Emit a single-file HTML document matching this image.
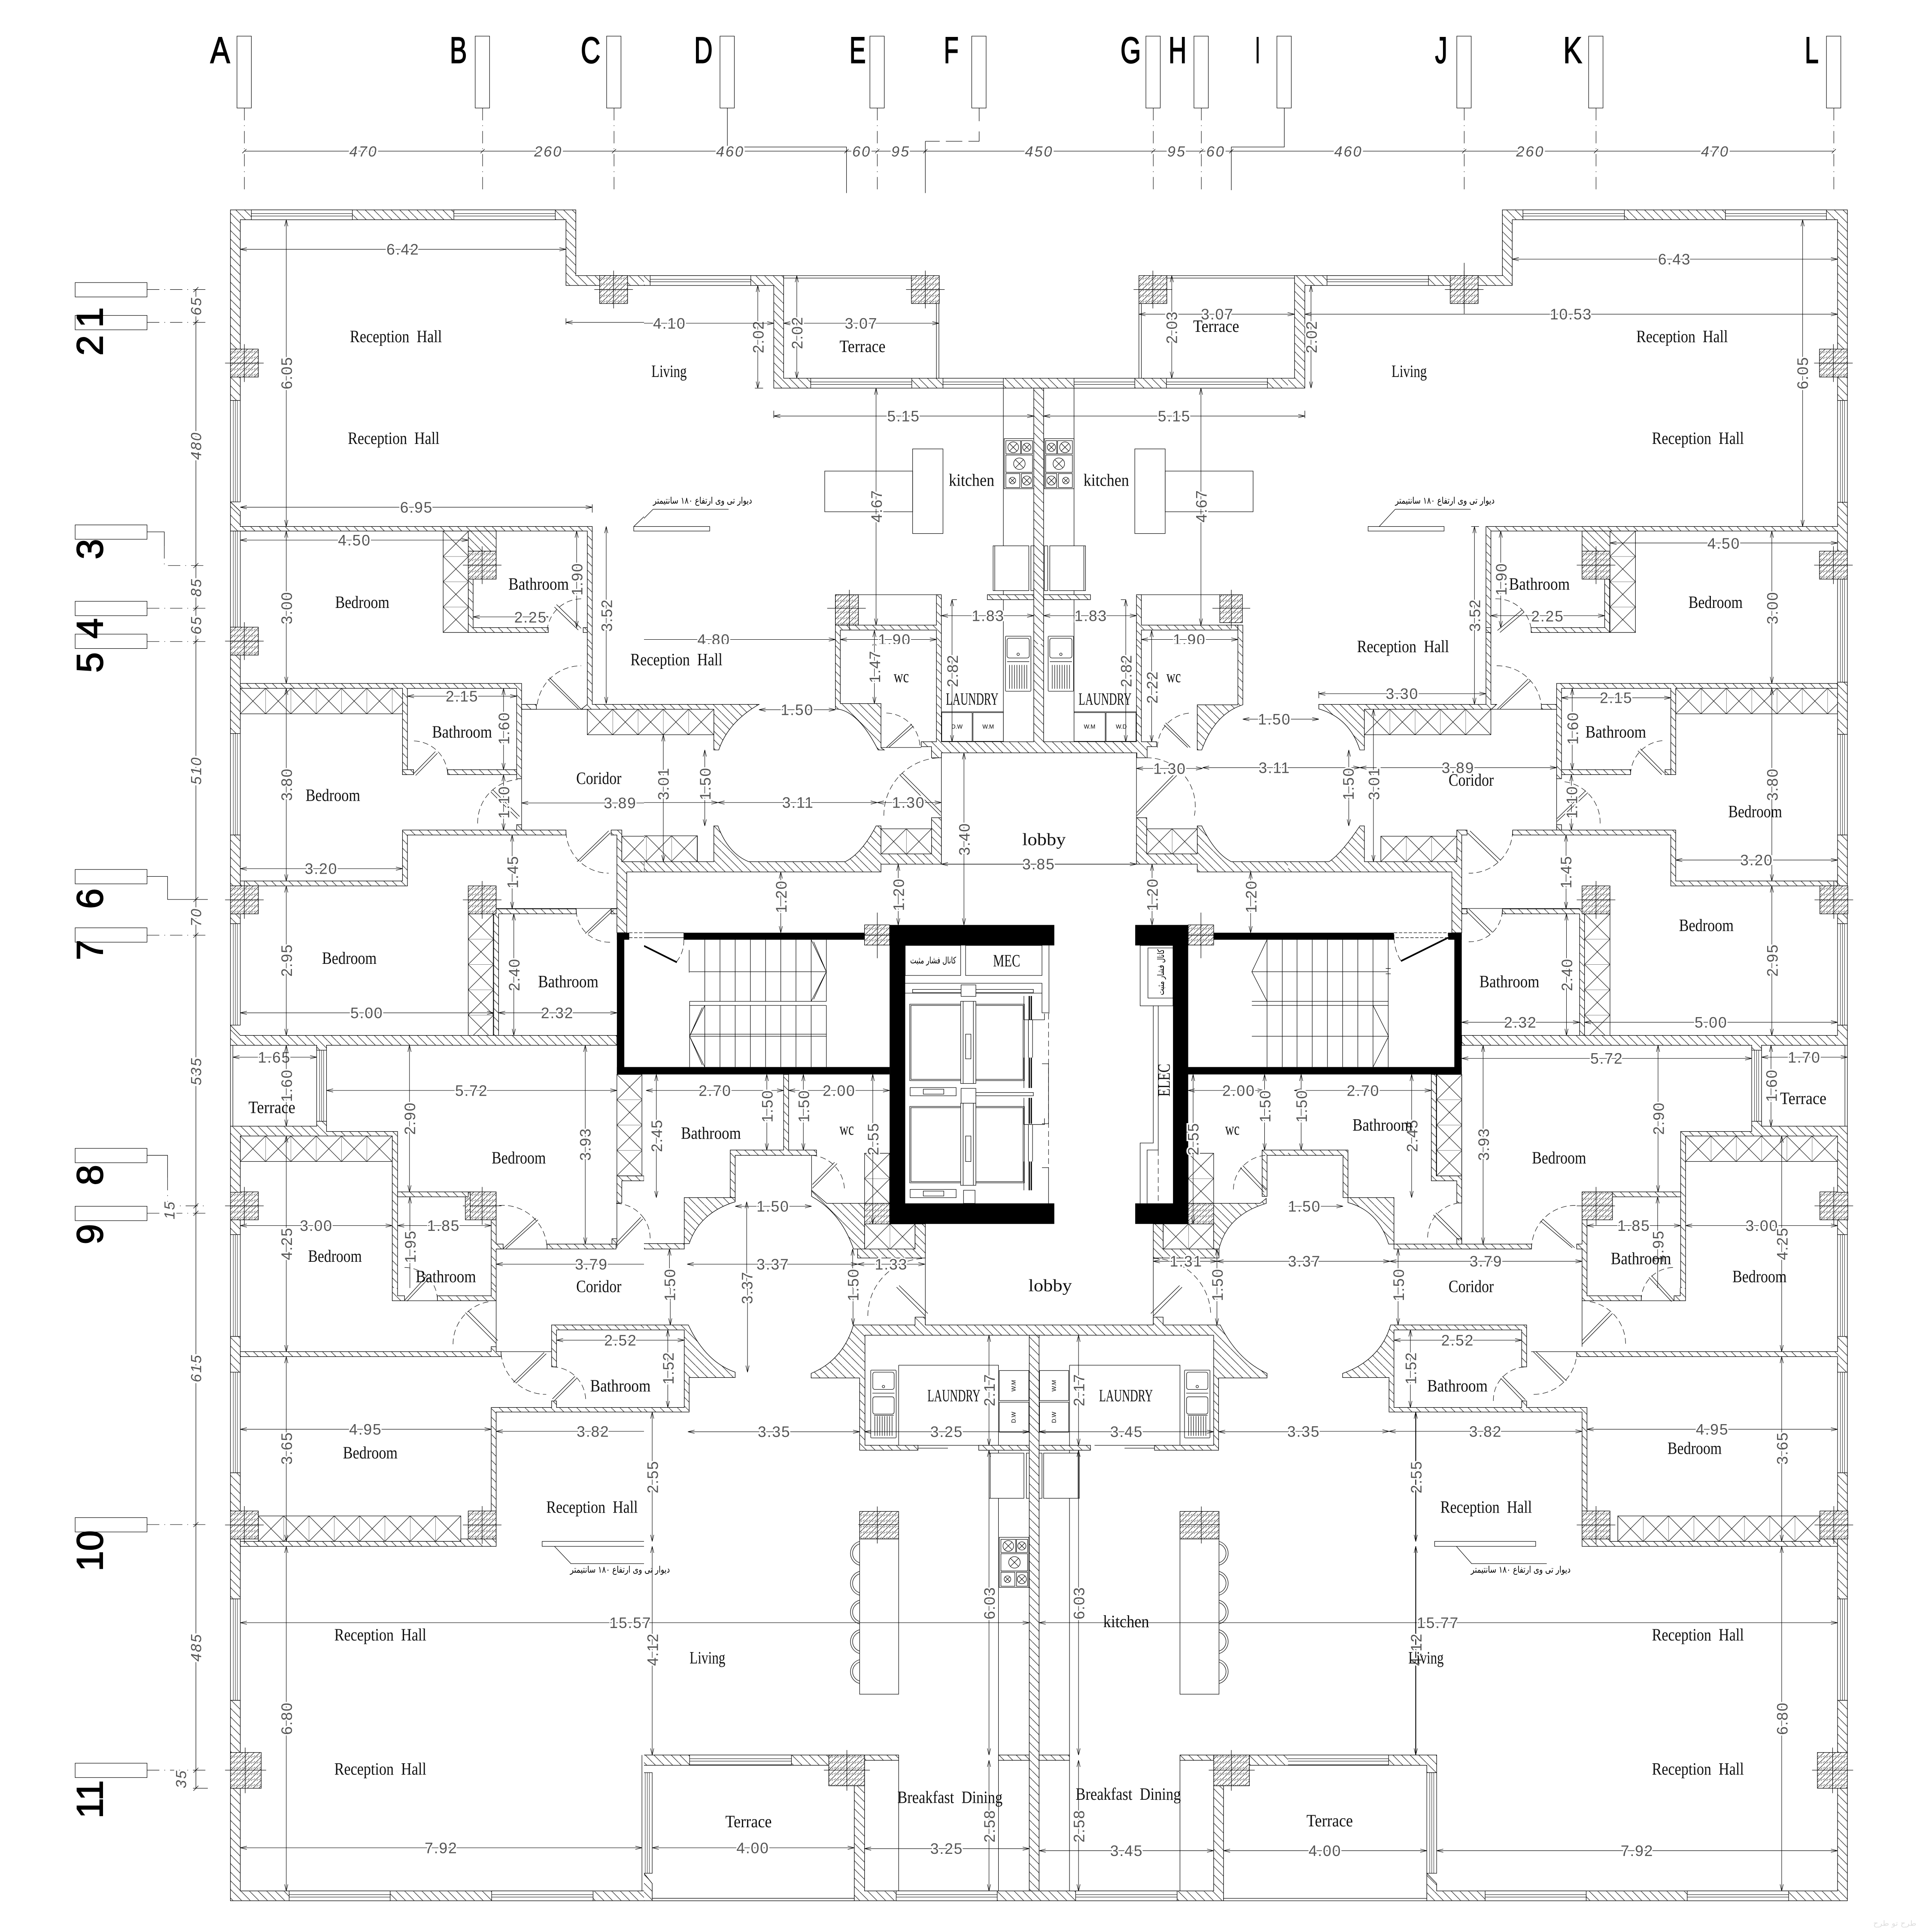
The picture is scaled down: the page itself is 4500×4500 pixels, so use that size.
<!DOCTYPE html>
<html><head><meta charset="utf-8"><title>Floor plan</title>
<style>
html,body{margin:0;padding:0;background:#fff}
svg{display:block}
.w{fill:url(#h);stroke:#000;stroke-width:1.3}
.c{fill:url(#k);stroke:#000;stroke-width:1.3}
.n{fill:none;stroke:#000;stroke-width:1.2}
.f{fill:#fff;stroke:#000;stroke-width:1.2}
.e{fill:none;stroke:#000;stroke-width:1.1;stroke-dasharray:14 8}
.g{fill:none;stroke:#000;stroke-width:1.1;stroke-dasharray:30 12 2 12}
.m{fill:none;stroke:#000;stroke-width:1.1;marker-start:url(#a);marker-end:url(#a)}
.b{fill:#000}
.x1{fill:url(#x1);stroke:#000;stroke-width:1.2}
.x2{fill:url(#x2);stroke:#000;stroke-width:1.2}
.wh{fill:url(#wh);stroke:#000;stroke-width:1.2}
.wv{fill:url(#wv);stroke:#000;stroke-width:1.2}
text{white-space:pre}
.t{font:42px "Liberation Serif",serif;fill:#111}
.d{font:37px "Liberation Sans",sans-serif;text-anchor:middle;fill:#555;paint-order:stroke;stroke:#fff;stroke-width:7px;letter-spacing:2px}
.i{font:italic 36px "Liberation Sans",sans-serif;text-anchor:middle;fill:#555;paint-order:stroke;stroke:#fff;stroke-width:9px;letter-spacing:3px}
.L{font:90px "Liberation Sans",sans-serif;fill:#000;stroke:#000;stroke-width:2px}
.p{font:22px "DejaVu Sans",sans-serif;fill:#000}
.s{font:14px "Liberation Sans",sans-serif;fill:#000;text-anchor:middle}
</style></head><body>
<svg xmlns="http://www.w3.org/2000/svg" width="4500" height="4500" viewBox="0 0 4500 4500">
<defs>
<marker id="a" markerUnits="userSpaceOnUse" markerWidth="20" markerHeight="12" viewBox="-18 -6 20 12" refX="0" refY="0" orient="auto-start-reverse"><path d="M-16 -4L0 0L-16 4" fill="none" stroke="#000" stroke-width="1.1"/></marker>
<pattern id="h" patternUnits="userSpaceOnUse" width="21" height="21"><rect width="21" height="21" fill="#fff"/><path d="M-1 -1L22 22" stroke="#000" stroke-width="1.1"/></pattern>
<pattern id="k" patternUnits="userSpaceOnUse" width="14" height="14"><rect width="14" height="14" fill="#fff"/><path d="M-1 15L15 -1" stroke="#000" stroke-width="1.1"/><path d="M5 4L1 8M13 6L9 10" stroke="#000" stroke-width=".8"/></pattern>
<pattern id="x1" patternUnits="userSpaceOnUse" width="61.6" height="62"><rect width="62" height="62" fill="#fff"/><path d="M0 0L61.6 62M61.6 0L0 62M0 0V62" stroke="#000" stroke-width="1.1" fill="none"/></pattern>
<pattern id="x2" patternUnits="userSpaceOnUse" width="62" height="61.6"><rect width="62" height="62" fill="#fff"/><path d="M0 0L62 61.6M62 0L0 61.6M0 0H62" stroke="#000" stroke-width="1.1" fill="none"/></pattern>
<pattern id="wh" patternUnits="userSpaceOnUse" width="400" height="24"><rect width="400" height="24" fill="#fff"/><path d="M0 9H400M0 15H400" stroke="#000" stroke-width="1"/></pattern>
<pattern id="wv" patternUnits="userSpaceOnUse" width="24" height="400"><rect width="24" height="400" fill="#fff"/><path d="M7 0V400M12 0V400M17 0V400" stroke="#000" stroke-width=".9"/></pattern>
<g id="col"><rect class="c" width="68" height="68"/><path class="n" d="M34 -12V80M-13 34H81"/></g>
<g id="st"><rect class="f" width="72" height="122"/><path class="n" d="M4 5h36v32h-36zM42 5h27v32h-27zM4 40h65v42h-65zM4 85h34v34h-34zM42 85h27v34h-27z"/><circle class="n" cx="22" cy="21" r="13"/><circle class="n" cx="55" cy="21" r="10"/><circle class="n" cx="37" cy="61" r="14"/><circle class="n" cx="20" cy="102" r="8"/><circle class="n" cx="55" cy="102" r="11"/><path class="n" d="M13 12L31 30M31 12L13 30M48 14L62 28M62 14L48 28M27 51L47 71M47 51L27 71M14 96L26 108M26 96L14 108M47 94L63 110M63 94L47 110"/></g>
<g id="sk"><rect class="f" width="62" height="134" rx="2"/><rect class="n" x="4" y="5" width="54" height="48" rx="5"/><circle class="n" cx="31" cy="44" r="3"/><path class="n" d="M4 62H58M10 70V128M16 70V128M22 70V128M28 70V128M34 70V128M40 70V128M46 70V128M52 70V128"/></g>
<g id="sk2"><rect class="f" width="62" height="165" rx="2"/><rect class="n" x="5" y="5" width="52" height="42" rx="5"/><circle class="n" cx="31" cy="40" r="3"/><path class="n" d="M4 56H58"/><rect class="n" x="5" y="65" width="52" height="42" rx="5"/><path class="n" d="M8 110H56M10 112V160M16 112V160M22 112V160M28 112V160M34 112V160M40 112V160M46 112V160M52 112V160"/></g>
<path id="hs" d="M0 0A30 30 0 0 0 0 58M0 6A24 24 0 0 0 0 52" class="n"/>
<path id="hd" d="M0 0A30 30 0 0 1 0 58M0 6A24 24 0 0 1 0 52" class="n"/>
</defs>
<rect width="4500" height="4500" fill="#fff"/>

<!-- T00 -->
<svg x="0" y="0" width="1500" height="1500" viewBox="0 0 1568 1568">
<rect class="f" x="577" y="88" width="35" height="175"/><rect class="f" x="1157" y="88" width="35" height="175"/><rect class="f" x="1477" y="88" width="35" height="175"/>
<text class="L" x="512" y="153" textLength="48" lengthAdjust="spacingAndGlyphs">A</text><text class="L" x="1095" y="153" textLength="42" lengthAdjust="spacingAndGlyphs">B</text><text class="L" x="1414" y="153" textLength="48" lengthAdjust="spacingAndGlyphs">C</text>
<path class="g" d="M595 263V470M1175 263V470M1495 263V470"/>
<path class="n" d="M595 368H1568M590 373L600 363M1170 373L1180 363M1490 373L1500 363"/>
<text class="i" x="885" y="381">470</text><text class="i" x="1335" y="381">260</text>
<rect class="f" x="183" y="688" width="175" height="35"/><rect class="f" x="183" y="768" width="175" height="35"/><rect class="f" x="183" y="1278" width="175" height="35"/><rect class="f" x="183" y="1464" width="175" height="35"/><rect class="f" x="183" y="1544" width="175" height="35"/>
<text class="L" x="250" y="773" transform="rotate(-90 250 773)" text-anchor="middle">1</text>
<text class="L" x="250" y="841" transform="rotate(-90 250 841)" text-anchor="middle">2</text>
<text class="L" x="250" y="1337" transform="rotate(-90 250 1337)" text-anchor="middle">3</text>
<text class="L" x="250" y="1530" transform="rotate(-90 250 1530)" text-anchor="middle">4</text>
<path class="g" d="M358 705H512M358 785H506M358 1481H506M358 1562H506M400 1330V1377H506"/><path class="n" d="M358 1295H400V1330M477 705V1568M471 711L483 699M471 791L483 779M471 1383L483 1371M471 1487L483 1475M471 1568L483 1556"/>
<text class="i" x="490" y="745" transform="rotate(-90 490 745)">65</text><text class="i" x="490" y="1085" transform="rotate(-90 490 1085)">480</text><text class="i" x="490" y="1430" transform="rotate(-90 490 1430)">85</text><text class="i" x="490" y="1522" transform="rotate(-90 490 1522)">65</text>
<path class="w" d="M561 975V511H1402V671H1580V695H1378V535H585V975Z"/>
<rect class="wh" transform="translate(612 511)" width="246" height="24"/><rect class="wh" transform="translate(1105 511)" width="247" height="24"/>
<rect class="wv" transform="translate(561 975)" width="24" height="247"/>
<path class="w" d="M561 1222L585 1245V1282H1442V1580H1430V1293H585V1293H561Z"/>
<rect class="wv" transform="translate(561 1293)" width="24" height="234"/>
<path class="w" d="M1140 1293H1208V1342H1140Z"/><path class="w" d="M1140 1410H1152V1528H1335V1540H1140Z"/><path class="w" d="M1420 1528H1430V1540H1420Z"/>
<rect class="x2" transform="translate(1079 1293)" width="61" height="247"/>
<use href="#col" x="561" y="850"/><use href="#col" x="1460" y="671"/><use href="#col" x="1140" y="1342"/><use href="#col" x="561" y="1527"/>
<path class="e" d="M1332 1535A85 85 0 0 1 1415 1458"/><path class="n" d="M1415 1530L1355 1472M1408 1534L1350 1478"/>
<rect class="f" x="1543" y="1282" width="30" height="11"/><path class="n" d="M1543 1282L1568 1258"/>
<path class="m" d="M585 607H1378"/><text class="d" x="981" y="620">6.42</text>
<path class="m" d="M697 535V1282"/><text class="d" x="711" y="908" transform="rotate(-90 711 908)">6.05</text>
<path class="m" d="M585 1235H1442"/><path class="n" d="M1442 1228V1248"/><text class="d" x="1014" y="1248">6.95</text>
<path class="m" d="M697 1293V1800"/><text class="d" x="711" y="1480" transform="rotate(-90 711 1480)">3.00</text>
<path class="m" d="M585 1315H1140"/><text class="d" x="863" y="1328">4.50</text>
<path class="m" d="M1404 1293V1528"/><text class="d" x="1418" y="1410" transform="rotate(-90 1418 1410)">1.90</text>
<path class="m" d="M1152 1502H1335"/><text class="d" x="1292" y="1516">2.25</text>
<path class="m" d="M1476 1282V1645"/><text class="d" x="1490" y="1498" transform="rotate(-90 1490 1498)">3.52</text>
<path class="m" d="M1378 785H1884"/><path class="n" d="M1378 775V790"/>
<text class="t" x="852" y="833" textLength="224" lengthAdjust="spacingAndGlyphs">Reception  Hall</text><text class="t" x="847" y="1081" textLength="223" lengthAdjust="spacingAndGlyphs">Reception  Hall</text><text class="t" x="816" y="1480" textLength="132" lengthAdjust="spacingAndGlyphs">Bedroom</text><text class="t" x="1238" y="1436" textLength="147" lengthAdjust="spacingAndGlyphs">Bathroom</text>
</svg>

<!-- T10 -->
<svg x="1500" y="0" width="1500" height="1500" viewBox="0 0 1568 1568">
<rect class="f" x="185" y="88" width="35" height="175"/><rect class="f" x="550" y="88" width="35" height="175"/><rect class="f" x="798" y="88" width="35" height="175"/><rect class="f" x="1222" y="88" width="35" height="175"/><rect class="f" x="1339" y="88" width="35" height="175"/><rect class="f" x="1541" y="88" width="35" height="175"/>
<text class="L" x="122" y="153" textLength="45" lengthAdjust="spacingAndGlyphs">D</text><text class="L" x="500" y="153" textLength="40" lengthAdjust="spacingAndGlyphs">E</text><text class="L" x="730" y="153" textLength="36" lengthAdjust="spacingAndGlyphs">F</text><text class="L" x="1160" y="153" textLength="50" lengthAdjust="spacingAndGlyphs">G</text><text class="L" x="1277" y="153" textLength="44" lengthAdjust="spacingAndGlyphs">H</text><text class="L" x="1488" y="153" textLength="12" lengthAdjust="spacingAndGlyphs">I</text>
<path class="n" d="M203 263V358H493V470M1559 263V358H1430V463M816 263V295M816 320V344H790M685 344H720M685 344V470"/>
<path class="g" d="M568 263V470M1240 263V470M1357 263V470"/><path class="n" d="M735 344H775"/>
<path class="n" d="M-10 368H1568M488 373L498 363M563 373L573 363M680 373L690 363M1235 373L1245 363M1352 373L1362 363M1425 373L1435 363"/>
<text class="i" x="210" y="381">460</text><text class="i" x="530" y="381">60</text><text class="i" x="625" y="381">95</text><text class="i" x="962" y="381">450</text><text class="i" x="1297" y="381">95</text><text class="i" x="1392" y="381">60</text>
<path class="w" d="M-20 671H340V921H1590V945H316V695H-20Z"/>
<rect class="wh" transform="translate(15 671)" width="245" height="24"/><rect class="wh" transform="translate(406 921)" width="246" height="24"/><rect class="wh" transform="translate(728 921)" width="147" height="24"/><rect class="wh" transform="translate(1047 921)" width="148" height="24"/><rect class="wh" transform="translate(1272 921)" width="246" height="24"/>
<path class="n" d="M340 671H651M340 677H651M712 739V921M718 739V921M1205 739V921M1211 739V921M1272 671H1600M1272 677H1600"/>
<use href="#col" x="651" y="671"/><use href="#col" x="1205" y="671"/>
<rect class="w" x="949" y="945" width="24" height="640"/>
<path class="n" d="M875 945V1448M1047 945V1448M875 1460V1600M1047 1460V1600"/>
<rect class="w" x="836" y="1448" width="113" height="12"/><rect class="w" x="973" y="1448" width="114" height="12"/>
<use href="#st" x="877" y="1068"/><use href="#st" transform="translate(1047 1068) scale(-1 1)"/>
<rect class="f" x="850" y="1329" width="87" height="109"/><path class="n" d="M854 1329V1438"/><rect class="f" x="988" y="1329" width="87" height="109"/><path class="n" d="M1071 1329V1438"/>
<rect class="f" x="942" y="1329" width="7" height="109"/><rect class="f" x="975" y="1329" width="8" height="109"/>
<rect class="n" x="440" y="1147" width="214" height="99"/><rect class="n" x="654" y="1093" width="74" height="206"/><rect class="n" x="1195" y="1093" width="74" height="206"/><rect class="n" x="1269" y="1147" width="214" height="99"/>
<rect class="f" x="-25" y="1282" width="185" height="11"/><path class="n" d="M22 1240H206M22 1240L-20 1282"/>
<text class="p" x="22" y="1226" textLength="241" lengthAdjust="spacingAndGlyphs">دیوار تی وی ارتفاع ۱۸۰ سانتیمتر</text>
<path class="w" d="M466 1448H478V1522H712V1448H724V1580H712V1534H478V1580H466Z"/>
<path class="n" d="M522 1448H712"/>
<rect class="c" x="466" y="1448" width="56" height="74"/><path class="n" d="M500 1436V1535M446 1481H540"/>
<path class="w" d="M1199 1448H1211V1522H1446V1534H1211V1580H1199Z"/><path class="w" d="M1446 1522H1458V1580H1446Z"/><path class="n" d="M1211 1448H1402"/>
<rect class="c" x="1402" y="1448" width="55" height="68"/><path class="n" d="M1430 1436V1530M1384 1481H1476"/>
<use href="#sk" x="880" y="1549"/><use href="#sk" x="984" y="1549"/>
<path class="m" d="M340 787H718"/><text class="d" x="529" y="800">3.07</text>
<path class="m" d="M372 671V921"/><text class="d" x="386" y="810" transform="rotate(-90 386 810)">2.02</text>
<text class="t" x="476" y="857" textLength="112" lengthAdjust="spacingAndGlyphs">Terrace</text>
<path class="m" d="M277 695V945"/><path class="n" d="M270 945H290"/><text class="d" x="291" y="820" transform="rotate(-90 291 820)">2.02</text>
<path class="m" d="M-190 787H316"/><text class="d" x="62" y="800">4.10</text>
<text class="t" x="18" y="918" textLength="86" lengthAdjust="spacingAndGlyphs">Living</text>
<path class="m" d="M316 1013H949"/><path class="n" d="M316 1000V1018"/><text class="d" x="632" y="1026">5.15</text>
<path class="m" d="M973 1013H1609"/><text class="d" x="1291" y="1026">5.15</text>
<path class="m" d="M565 945V1522"/><text class="d" x="579" y="1232" transform="rotate(-90 579 1232)">4.67</text>
<path class="m" d="M1356 945V1522"/><text class="d" x="1370" y="1232" transform="rotate(-90 1370 1232)">4.67</text>
<path class="m" d="M1205 765H1583"/><text class="d" x="1396" y="778">3.07</text>
<path class="m" d="M1285 671V921"/><text class="d" x="1298" y="797" transform="rotate(-90 1298 797)">2.03</text>
<text class="t" x="1337" y="808" textLength="112" lengthAdjust="spacingAndGlyphs">Terrace</text>
<text class="t" x="742" y="1183" textLength="111" lengthAdjust="spacingAndGlyphs">kitchen</text><text class="t" x="1070" y="1183" textLength="111" lengthAdjust="spacingAndGlyphs">kitchen</text>
<path class="m" d="M724 1499H949"/><text class="d" x="838" y="1512">1.83</text><path class="m" d="M973 1499H1199"/><text class="d" x="1088" y="1512">1.83</text>
<path class="m" d="M-300 1557H466"/><text class="d" x="170" y="1570">4.80</text>
<path class="m" d="M478 1557H712"/><text class="d" x="610" y="1570">1.90</text><path class="m" d="M1211 1557H1446"/><text class="d" x="1328" y="1570">1.90</text>
<path class="m" d="M750 1460V1806"/><path class="m" d="M1173 1460V1806"/><path class="n" d="M750 1460H762M1161 1460H1173"/><path class="m" d="M561 1535V1713"/><path class="m" d="M1236 1535V1806"/>
</svg>

<!-- T20 -->
<svg x="3000" y="0" width="1500" height="1500" viewBox="0 0 1568 1568">
<rect class="f" x="-27" y="88" width="35" height="175"/><rect class="f" x="411" y="88" width="35" height="175"/><rect class="f" x="732" y="88" width="35" height="175"/><rect class="f" x="1311" y="88" width="35" height="175"/>
<text class="L" x="358" y="153" textLength="30" lengthAdjust="spacingAndGlyphs">J</text><text class="L" x="670" y="153" textLength="46" lengthAdjust="spacingAndGlyphs">K</text><text class="L" x="1258" y="153" textLength="34" lengthAdjust="spacingAndGlyphs">L</text>
<path class="g" d="M429 263V470M750 263V470M1329 263V470"/>
<path class="n" d="M-10 368H1329M424 373L434 363M745 373L755 363M1324 373L1334 363"/>
<text class="i" x="147" y="381">460</text><text class="i" x="590" y="381">260</text><text class="i" x="1040" y="381">470</text>
<path class="w" d="M-20 921H16V671H522V511H1362V975H1338V535H546V695H41V945H-20Z"/>
<rect class="wh" transform="translate(95 671)" width="247" height="24"/><rect class="wh" transform="translate(572 511)" width="247" height="24"/><rect class="wh" transform="translate(1065 511)" width="246" height="24"/>
<rect class="wv" transform="translate(1338 975)" width="24" height="248"/>
<path class="n" d="M-10 671H16M-10 677H16"/>
<path class="w" d="M482 1580V1282H1338V1223H1362V1345H1338V1293H494V1580Z"/>
<path class="w" d="M716 1293H784V1342H716Z"/><path class="w" d="M771 1410H783V1540H592V1528H771Z"/>
<rect class="x2" transform="translate(784 1293)" width="62" height="247"/>
<path class="w" d="M482 1528H494V1540H482Z"/>
<rect class="wv" transform="translate(1338 1410)" width="24" height="190"/>
<use href="#col" x="395" y="671"/><use href="#col" x="1294" y="850"/><use href="#col" x="716" y="1342"/><use href="#col" x="1294" y="1342"/>
<path class="n" d="M429 640V764"/>
<path class="e" d="M505 1458A85 85 0 0 1 592 1530"/><path class="n" d="M510 1535L570 1485M516 1540L575 1490"/>
<rect class="f" x="195" y="1282" width="185" height="11"/><path class="n" d="M261 1240H445M261 1240L222 1282"/>
<text class="p" x="261" y="1226" textLength="242" lengthAdjust="spacingAndGlyphs">دیوار تی وی ارتفاع ۱۸۰ سانتیمتر</text>
<path class="m" d="M546 631H1338"/><text class="d" x="941" y="644">6.43</text>
<path class="m" d="M41 765H1338"/><text class="d" x="689" y="778">10.53</text>
<path class="m" d="M-360 765H16"/>
<path class="m" d="M1253 535V1282"/><text class="d" x="1266" y="908" transform="rotate(-90 1266 908)">6.05</text>
<path class="m" d="M56 695V945"/><text class="d" x="70" y="820" transform="rotate(-90 70 820)">2.02</text>
<path class="m" d="M784 1322H1338"/><text class="d" x="1061" y="1336">4.50</text>
<path class="m" d="M1178 1293V1596"/><text class="d" x="1192" y="1480" transform="rotate(-90 1192 1480)">3.00</text>
<path class="m" d="M518 1293V1528"/><text class="d" x="532" y="1410" transform="rotate(-90 532 1410)">1.90</text>
<path class="m" d="M494 1499H771"/><text class="d" x="632" y="1513">2.25</text>
<path class="m" d="M454 1282V1645"/><path class="n" d="M446 1282H465"/><text class="d" x="468" y="1498" transform="rotate(-90 468 1498)">3.52</text>
<path class="m" d="M-620 1013H41"/><path class="n" d="M41 1000V1018"/>
<text class="t" x="848" y="833" textLength="223" lengthAdjust="spacingAndGlyphs">Reception  Hall</text><text class="t" x="886" y="1081" textLength="224" lengthAdjust="spacingAndGlyphs">Reception  Hall</text><text class="t" x="252" y="918" textLength="86" lengthAdjust="spacingAndGlyphs">Living</text><text class="t" x="975" y="1480" textLength="132" lengthAdjust="spacingAndGlyphs">Bedroom</text><text class="t" x="538" y="1436" textLength="148" lengthAdjust="spacingAndGlyphs">Bathroom</text>
<text class="t" x="168" y="1588" textLength="224" lengthAdjust="spacingAndGlyphs">Reception  Hall</text>
</svg>

<!-- T01 -->
<svg x="0" y="1500" width="1500" height="1500" viewBox="0 0 1568 1568">
<rect class="f" x="183" y="-24" width="175" height="35"/><rect class="f" x="183" y="549" width="175" height="35"/><rect class="f" x="183" y="691" width="175" height="35"/><rect class="f" x="183" y="1228" width="175" height="35"/><rect class="f" x="183" y="1369" width="175" height="35"/>
<text class="L" x="250" y="45" transform="rotate(-90 250 45)" text-anchor="middle">5</text><text class="L" x="250" y="620" transform="rotate(-90 250 620)" text-anchor="middle">6</text><text class="L" x="250" y="745" transform="rotate(-90 250 745)" text-anchor="middle">7</text><text class="L" x="250" y="1293" transform="rotate(-90 250 1293)" text-anchor="middle">8</text><text class="L" x="250" y="1437" transform="rotate(-90 250 1437)" text-anchor="middle">9</text>
<path class="n" d="M358 566H408V622H506M358 1245H408V1300M477 -10V1568M471 628L483 616M471 715L483 703M471 1374L483 1362M471 1392L483 1380"/>
<path class="g" d="M358 709H506M408 1300V1368H506M358 1386H506M408 622H506"/>
<text class="i" x="490" y="308" transform="rotate(-90 490 308)">510</text><text class="i" x="490" y="665" transform="rotate(-90 490 665)">70</text><text class="i" x="490" y="1040" transform="rotate(-90 490 1040)">535</text><text class="i" x="425" y="1378" transform="rotate(-90 425 1378)">15</text>
<use href="#col" x="561" y="-41"/>
<rect class="w" x="561" y="27" width="24" height="191"/><rect class="wv" transform="translate(561 218)" width="24" height="247"/><rect class="w" x="561" y="465" width="24" height="124"/><rect class="w" x="561" y="657" width="24" height="24"/><rect class="wv" transform="translate(561 681)" width="24" height="247"/>
<path class="w" d="M585 96H1270V328H1258V108H992V318H980V108H585Z"/><path class="w" d="M1090 306H1258V318H1090Z"/><path class="w" d="M980 306H1007V318H980Z"/>
<rect class="x1" transform="translate(585 108)" width="395" height="62"/>
<path class="e" d="M1008 236A85 85 0 0 1 1090 318"/><path class="n" d="M1007 316L1060 262M1012 320L1065 266"/>
<path class="w" d="M1430 -20H1442V147H1580V159H1415L1430 147Z"/><rect class="w" x="1270" y="147" width="36" height="12"/>
<path class="n" d="M1270 159H1430M1270 328V440"/><path class="w" d="M1258 440H1270V453H1258Z"/>
<path class="e" d="M1308 147A108 108 0 0 1 1415 53"/><path class="n" d="M1415 159L1338 82M1409 159L1334 86"/>
<rect class="x1" transform="translate(1430 159)" width="200" height="62"/>
<path class="e" d="M1163 437A105 105 0 0 1 1260 330"/><path class="n" d="M1195 360L1260 425M1200 355L1265 420"/>
<path class="w" d="M980 453H1378V465H992V589H585V577H980Z"/>
<path class="w" d="M1488 453H1514V465H1514V530H1580V555H1526V703H1502V465H1488Z"/>
<rect class="x1" transform="translate(1514 468)" width="100" height="62"/>
<path class="e" d="M1378 458A105 105 0 0 0 1482 558"/><path class="n" d="M1405 530L1482 455M1412 530L1486 460"/>
<path class="n" d="M1208 644H1502"/><path class="w" d="M1202 645H1403V657H1214V953H1202Z"/><path class="w" d="M1488 645H1502V657H1488Z"/>
<path class="e" d="M1403 650A80 80 0 0 0 1486 726"/><path class="n" d="M1425 705L1488 645M1432 705L1494 648"/>
<rect class="x2" transform="translate(1140 657)" width="61" height="296"/>
<use href="#col" x="561" y="589"/><use href="#col" x="1140" y="589"/><use href="#col" x="561" y="1334"/><use href="#col" x="1140" y="1334"/><rect class="c" x="1133" y="1334" width="12" height="68"/>
<rect class="b" x="1502" y="703" width="30" height="17"/><rect class="b" x="1502" y="703" width="18" height="345"/><rect class="b" x="1502" y="1030" width="80" height="18"/>
<path class="n" d="M1532 703H1580M1532 715H1580" stroke-dasharray="8 4"/>
<path class="w" d="M561 928L585 953H1502V977H795V989H771V977H561Z"/>
<path class="n" d="M561 977V1174M567 977V1174M771 977V1174"/><rect class="wv" transform="translate(771 989)" width="24" height="173"/>
<path class="w" d="M561 1174H771V1162H795V1187H968V1580H955V1198H585V1335H561Z"/><path class="w" d="M968 1334H1140V1346H968Z"/>
<path class="w" d="M1196 1402H1208V1461H1225V1473H1208V1580H1196Z"/><path class="w" d="M1332 1461H1500V1473H1332Z"/><path class="n" d="M1208 1473H1332"/>
<rect class="x1" transform="translate(585 1198)" width="370" height="62"/>
<rect class="w" x="561" y="1402" width="24" height="36"/><rect class="wv" transform="translate(561 1438)" width="24" height="140"/>
<rect class="x2" transform="translate(1502 1048)" width="61" height="247"/>
<path class="w" d="M1502 1295H1568V1307H1514V1361H1502Z"/><path class="n" d="M1502 1361V1470"/>
<path class="w" d="M1490 1448H1502V1461H1490Z"/>
<path class="e" d="M1215 1367A108 108 0 0 1 1332 1473"/><path class="n" d="M1225 1472L1305 1398M1232 1472L1310 1402"/>
<path class="e" d="M1500 1362A85 85 0 0 1 1583 1447"/><path class="n" d="M1502 1465L1565 1400M1502 1456L1560 1396"/>
<path class="e" d="M985 -50A80 80 0 0 1 1065 31" transform="translate(0 1568)"/><path class="n" d="M985 1598L1040 1538M991 1600L1046 1542"/>
<path class="m" d="M697 -200V96"/><path class="m" d="M697 108V577"/><text class="d" x="711" y="342" transform="rotate(-90 711 342)">3.80</text>
<path class="m" d="M585 547H980"/><text class="d" x="782" y="560">3.20</text>
<path class="m" d="M697 589V953"/><text class="d" x="711" y="770" transform="rotate(-90 711 770)">2.95</text>
<path class="m" d="M585 898H1202"/><text class="d" x="893" y="911">5.00</text>
<path class="m" d="M992 127H1258"/><text class="d" x="1125" y="140">2.15</text>
<path class="m" d="M1226 108V306"/><text class="d" x="1240" y="205" transform="rotate(-90 1240 205)">1.60</text>
<path class="m" d="M1226 318V453"/><text class="d" x="1240" y="385" transform="rotate(-90 1240 385)">1.10</text>
<path class="m" d="M1270 387H1748"/><text class="d" x="1510" y="400">3.89</text>
<path class="m" d="M1247 465V644"/><text class="d" x="1261" y="555" transform="rotate(-90 1261 555)">1.45</text>
<path class="m" d="M1251 657V953"/><text class="d" x="1265" y="805" transform="rotate(-90 1265 805)">2.40</text>
<path class="m" d="M1214 898H1502"/><text class="d" x="1357" y="911">2.32</text>
<path class="m" d="M567 1006H771"/><text class="d" x="668" y="1019">1.65</text>
<path class="m" d="M697 977V1174"/><text class="d" x="711" y="1075" transform="rotate(-90 711 1075)">1.60</text>
<path class="m" d="M795 1087H1502"/><text class="d" x="1148" y="1100">5.72</text>
<path class="m" d="M997 977V1334"/><text class="d" x="1011" y="1155" transform="rotate(-90 1011 1155)">2.90</text>
<path class="m" d="M1425 977V1461"/><text class="d" x="1438" y="1218" transform="rotate(-90 1438 1218)">3.93</text>
<path class="m" d="M697 1198V1960"/><text class="d" x="711" y="1460" transform="rotate(-90 711 1460)">4.25</text>
<path class="m" d="M585 1416H955"/><text class="d" x="770" y="1429">3.00</text>
<path class="m" d="M968 1416H1196"/><text class="d" x="1080" y="1429">1.85</text>
<path class="m" d="M998 1346V1600"/><text class="d" x="1012" y="1467" transform="rotate(-90 1012 1467)">1.95</text>
<path class="m" d="M1208 1510H1605"/><text class="d" x="1440" y="1523">3.79</text>
<path class="m" d="M1476 -200V145"/>
<text class="t" x="1052" y="228" textLength="146" lengthAdjust="spacingAndGlyphs">Bathroom</text><text class="t" x="744" y="382" textLength="133" lengthAdjust="spacingAndGlyphs">Bedroom</text><text class="t" x="1403" y="341" textLength="110" lengthAdjust="spacingAndGlyphs">Coridor</text><text class="t" x="784" y="779" textLength="133" lengthAdjust="spacingAndGlyphs">Bedroom</text><text class="t" x="1310" y="836" textLength="147" lengthAdjust="spacingAndGlyphs">Bathroom</text><text class="t" x="605" y="1142" textLength="114" lengthAdjust="spacingAndGlyphs">Terrace</text><text class="t" x="1197" y="1265" textLength="132" lengthAdjust="spacingAndGlyphs">Bedroom</text><text class="t" x="750" y="1504" textLength="131" lengthAdjust="spacingAndGlyphs">Bedroom</text><text class="t" x="1012" y="1554" textLength="147" lengthAdjust="spacingAndGlyphs">Bathroom</text><text class="t" x="1403" y="1578" textLength="110" lengthAdjust="spacingAndGlyphs">Coridor</text><text class="t" x="1535" y="52" textLength="224" lengthAdjust="spacingAndGlyphs">Reception  Hall</text>
</svg>

<!-- T11 -->
<svg x="1500" y="1500" width="1500" height="1500" viewBox="0 0 1568 1568">
<path class="w" d="M466 -20H478V145H577V253L585 258H570Q520 160 466 158Z"/>
<path class="w" d="M-140 147H280Q205 190 182 258H170V159H-140Z"/>
<rect class="x1" transform="translate(-138 159)" width="308" height="62"/>
<path class="w" d="M675 238H712V-20H724V238H949V-20H973V238H1199V-20H1211V238H1248V250H1225V277H1200V265H724V277H700V250H675Z"/>
<path class="w" d="M1446 -20H1458V148Q1390 170 1358 258H1347V148H1446Z"/>
<path class="n" d="M875 -20V238M1047 -20V238M724 165H875M1047 165H1199M577 252H675M724 265V536H1199V265"/>
<rect class="f" x="725" y="167" width="74" height="70"/><rect class="f" x="801" y="167" width="74" height="70"/><rect class="f" x="1047" y="167" width="76" height="70"/><rect class="f" x="1125" y="167" width="73" height="70"/>
<text class="s" x="762" y="206">D.W</text><text class="s" x="838" y="206">W.M</text><text class="s" x="1085" y="206">W.M</text><text class="s" x="1162" y="206">W.D</text>
<use href="#sk" x="880" y="-19"/><use href="#sk" x="984" y="-19"/>
<path class="e" d="M590 168A85 85 0 0 1 672 252"/><path class="n" d="M590 252L652 195M596 252L656 200"/>
<path class="e" d="M1250 252A85 85 0 0 1 1332 168"/><path class="n" d="M1330 252L1270 192M1324 252L1266 197"/>
<path class="e" d="M584 418A140 140 0 0 1 724 277"/><path class="n" d="M622 318L722 418M628 314L724 410"/>
<path class="e" d="M1222 277A118 118 0 0 1 1340 418"/><path class="n" d="M1200 418L1297 320M1200 410L1292 316"/>
<path class="w" d="M0 530H170V443H180Q205 510 255 530H490Q530 510 565 443H577V511H700V423H724V536H577V555H0Z"/>
<path class="w" d="M1199 423H1224V511H1347V443H1358Q1390 510 1430 530H1580V555H1347V536H1199Z"/>
<rect class="x1" transform="translate(577 450)" width="123" height="61"/><rect class="x1" transform="translate(1224 450)" width="123" height="61"/><rect class="x1" transform="translate(-56 467)" width="186" height="63"/>
<!-- core -->
<path class="b" d="M598 684H999V734H636V1362H999V1412H598Z"/>
<path class="b" d="M1196 684H1325V1412H1196V1362H1288V734H1196Z"/>
<rect class="b" x="97" y="703" width="440" height="17"/><rect class="b" x="-10" y="1030" width="608" height="18"/>
<rect class="b" x="1387" y="703" width="190" height="17"/><rect class="b" x="1325" y="1030" width="250" height="18"/>
<rect class="c" x="537" y="684" width="61" height="49"/><path class="n" d="M568 654V765M520 709H598"/>
<rect class="c" x="1325" y="684" width="62" height="49"/><path class="n" d="M1356 654V765M1325 709H1400"/>
<path class="n" d="M148 720V870M185 720V870M222 720V870M259 720V870M296 720V870M333 720V870M370 720V870M407 720V870M444 720V870M148 880V1030M185 880V1030M222 880V1030M259 880V1030M296 880V1030M333 880V1030M370 880V1030M407 880V1030M444 880V1030M111 798H444M111 870H444M111 880H444M111 950H444M111 955H444M111 870V1030"/>
<path class="n" d="M407 720L444 798L407 870M413 725L444 798L413 865M148 880L111 955L148 1030M142 885L111 955L142 1025M110 745V800"/>
<path class="n" d="M0 703H97M0 715H97M97 703V720"/><path class="e" d="M97 720A80 80 0 0 1 78 775"/>
<path d="M0 735L80 775" stroke="#000" stroke-width="4"/>
<path class="n" d="M1517 720V1030M1554 720V1030M1480 798H1568M1480 870H1568M1480 880H1568M1480 955H1568M1517 720L1480 798L1517 870"/>
<rect class="n" x="636" y="734" width="135" height="73"/><rect class="n" x="783" y="734" width="186" height="73"/><path class="n" d="M986 734V900"/>
<text class="p" x="648" y="778" textLength="112" lengthAdjust="spacingAndGlyphs">کانال فشار مثبت</text>
<text class="t" x="850" y="785" textLength="66" lengthAdjust="spacingAndGlyphs">MEC</text>
<path class="n" d="M636 826H969V898H985M969 1022H985V1168H969M969 1275H985V1362M636 850H969"/><path class="e" d="M985 900V1275"/>
<rect class="n" x="647" y="877" width="279" height="186"/><rect class="n" x="650" y="880" width="273" height="180"/>
<rect class="n" x="647" y="1126" width="279" height="186"/><rect class="n" x="650" y="1129" width="273" height="180"/>
<rect class="f" x="771" y="870" width="37" height="200"/><path class="n" d="M777 870V1070M802 870V1070"/><rect class="f" x="783" y="950" width="13" height="60"/>
<rect class="f" x="771" y="1118" width="37" height="200"/><path class="n" d="M777 1118V1318M802 1118V1318"/><rect class="f" x="783" y="1198" width="13" height="62"/>
<rect class="f" x="654" y="841" width="294" height="8"/><rect class="f" x="808" y="1092" width="140" height="8"/>
<rect class="f" x="772" y="830" width="36" height="28"/><rect class="f" x="772" y="1082" width="36" height="36"/>
<rect class="f" x="648" y="1080" width="112" height="20"/><rect class="n" x="680" y="1084" width="50" height="12"/>
<rect class="f" x="648" y="1328" width="112" height="20"/><rect class="n" x="680" y="1332" width="50" height="12"/>
<rect class="f" x="778" y="1330" width="28" height="32"/>
<path d="M938 857V915M943 857V915M938 1105V1168M943 1105V1168M938 1260V1330M943 1260V1330M938 1007V1081M943 1007V1081" stroke="#000" stroke-width="3"/>
<path class="n" d="M925 915H975V900M925 857V915M925 1007V1081M925 1170H975V1155M925 1105V1170M925 1260V1330M936 915V1007M946 915V1007M936 1170V1260M946 1170V1260"/>
<rect class="n" x="1208" y="734" width="80" height="147"/><rect class="n" x="1227" y="740" width="61" height="122"/>
<text class="p" x="1266" y="855" transform="rotate(-90 1266 855)" textLength="112" lengthAdjust="spacingAndGlyphs">کانال فشار مثبت</text>
<path class="n" d="M1240 881V1215H1208V1362M1252 881V1232H1225V1362"/><path class="e" d="M1252 1232V1362"/>
<text class="t" x="1280" y="1102" transform="rotate(-90 1280 1102)" textLength="80" lengthAdjust="spacingAndGlyphs">ELEC</text>
<!-- lower -->
<path class="w" d="M340 1048H352V1232H420V1245H222V1348H210V1232H340Z"/>
<path class="w" d="M98 1348H222V1358Q135 1385 110 1460H98V1473H-20V1460H98Z"/>
<path class="w" d="M408 1330L445 1362H537V1473H510Q480 1385 408 1345Z"/>
<rect class="x2" transform="translate(537 1240)" width="61" height="122"/><rect class="c" x="537" y="1362" width="61" height="50"/>
<rect class="x1" transform="translate(537 1412)" width="123" height="61"/>
<path class="w" d="M660 1412H685V1495H520V1473H660Z"/>
<path class="n" d="M685 1495V1580M1240 1495V1580M408 1245V1330"/>
<path class="e" d="M408 1245A85 85 0 0 1 488 1328"/><path class="n" d="M410 1325L470 1265M410 1316L464 1262"/>
<rect class="x2" transform="translate(1325 1240)" width="62" height="122"/><rect class="c" x="1325" y="1362" width="62" height="50"/>
<rect class="x1" transform="translate(1264 1412)" width="123" height="61"/>
<path class="w" d="M1240 1412H1264V1473H1400V1495H1240Z"/>
<path class="w" d="M1387 1362H1500L1515 1350V1362Q1420 1390 1400 1473H1387Z"/>
<path class="w" d="M1505 1232H1580V1245H1517V1345H1505Z"/>
<path class="e" d="M1435 1328A85 85 0 0 1 1515 1245"/><path class="n" d="M1515 1330L1458 1270M1510 1335L1452 1275"/>
<path class="e" d="M15 1447A85 85 0 0 0 -68 1362" transform="scale(1)"/><path class="n" d="M-66 1465L-3 1400"/>
<path class="e" d="M545 1636A140 140 0 0 1 685 1496M1240 1496A140 140 0 0 1 1380 1636"/><path class="n" d="M615 1566L685 1636M621 1562L691 1630M1310 1566L1240 1636M1304 1562L1234 1630"/>
<!-- dims -->
<path class="m" d="M280 160H466"/><text class="d" x="373" y="173">1.50</text>
<path class="m" d="M561 -12V145"/><text class="d" x="575" y="55" transform="rotate(-90 575 55)">1.47</text>
<path class="m" d="M750 -108V238"/><text class="d" x="764" y="65" transform="rotate(-90 764 65)">2.82</text>
<path class="m" d="M1173 -108V238"/><text class="d" x="1187" y="65" transform="rotate(-90 1187 65)">2.82</text>
<path class="m" d="M1236 -33V238"/><text class="d" x="1250" y="105" transform="rotate(-90 1250 105)">2.22</text>
<path class="m" d="M568 386H724"/><text class="d" x="644" y="399">1.30</text>
<path class="m" d="M180 386H568"/><text class="d" x="375" y="399">3.11</text>
<path class="m" d="M-300 386H180"/>
<path class="m" d="M148 258V443"/><text class="d" x="162" y="340" transform="rotate(-90 162 340)">1.50</text>
<path class="m" d="M47 221V530"/><text class="d" x="60" y="340" transform="rotate(-90 60 340)">3.01</text>
<path class="m" d="M779 265V684"/><text class="d" x="793" y="475" transform="rotate(-90 793 475)">3.40</text>
<path class="m" d="M724 536H1199"/><text class="d" x="961" y="549">3.85</text>
<text class="t" x="921" y="490" textLength="106" lengthAdjust="spacingAndGlyphs">lobby</text>
<path class="m" d="M333 555V703"/><text class="d" x="347" y="615" transform="rotate(-90 347 615)">1.20</text>
<path class="m" d="M619 536V684"/><text class="d" x="633" y="610" transform="rotate(-90 633 610)">1.20</text>
<path class="m" d="M1237 536V684"/><text class="d" x="1251" y="610" transform="rotate(-90 1251 610)">1.20</text>
<path class="m" d="M1477 555V703"/><text class="d" x="1491" y="615" transform="rotate(-90 1491 615)">1.20</text>
<path class="m" d="M1199 303H1360"/><text class="d" x="1280" y="316">1.30</text>
<path class="m" d="M1360 301H1743"/><text class="d" x="1535" y="314">3.11</text>
<path class="m" d="M1458 183H1643"/><text class="d" x="1535" y="196">1.50</text>
<text class="t" x="735" y="148" textLength="128" lengthAdjust="spacingAndGlyphs">LAUNDRY</text><text class="t" x="1058" y="148" textLength="129" lengthAdjust="spacingAndGlyphs">LAUNDRY</text>
<text class="t" x="608" y="93" textLength="37" lengthAdjust="spacingAndGlyphs">wc</text><text class="t" x="1272" y="93" textLength="35" lengthAdjust="spacingAndGlyphs">wc</text>
<text class="t" x="-33" y="52" textLength="224" lengthAdjust="spacingAndGlyphs">Reception  Hall</text>
<text class="t" x="90" y="1205" textLength="146" lengthAdjust="spacingAndGlyphs">Bathroom</text><text class="t" x="476" y="1195" textLength="35" lengthAdjust="spacingAndGlyphs">wc</text><text class="t" x="1415" y="1195" textLength="35" lengthAdjust="spacingAndGlyphs">wc</text>
<path class="m" d="M5 1087H340"/><text class="d" x="173" y="1100">2.70</text>
<path class="m" d="M352 1087H598"/><text class="d" x="475" y="1100">2.00</text>
<path class="m" d="M1325 1087H1510"/><text class="d" x="1448" y="1100">2.00</text>
<path class="m" d="M299 1048V1232"/><text class="d" x="313" y="1125" transform="rotate(-90 313 1125)">1.50</text>
<path class="m" d="M388 1048V1232"/><text class="d" x="402" y="1125" transform="rotate(-90 402 1125)">1.50</text>
<path class="m" d="M1511 1048V1232"/><text class="d" x="1525" y="1125" transform="rotate(-90 1525 1125)">1.50</text>
<path class="m" d="M30 1048V1348"/><text class="d" x="44" y="1197" transform="rotate(-90 44 1197)">2.45</text>
<path class="m" d="M557 1048V1412"/><text class="d" x="571" y="1205" transform="rotate(-90 571 1205)">2.55</text>
<path class="m" d="M1337 1048V1412"/><text class="d" x="1350" y="1205" transform="rotate(-90 1350 1205)">2.55</text>
<path class="m" d="M222 1369H408"/><text class="d" x="314" y="1382">1.50</text>
<path class="m" d="M250 1358V1775"/>
<path class="m" d="M105 1510H520"/><text class="d" x="314" y="1523">3.37</text>
<path class="m" d="M520 1510H684"/><text class="d" x="602" y="1523">1.33</text>
<path class="m" d="M1240 1503H1395"/><text class="d" x="1320" y="1516">1.31</text>
<path class="m" d="M1395 1503H1748"/>
<path class="m" d="M62 1473V1658"/><path class="m" d="M508 1473V1658"/><path class="m" d="M1395 1473V1658"/>
<text class="d" x="76" y="1560" transform="rotate(-90 76 1560)">1.50</text><text class="d" x="522" y="1560" transform="rotate(-90 522 1560)">1.50</text><text class="d" x="1409" y="1560" transform="rotate(-90 1409 1560)">1.50</text><text class="d" x="264" y="1567" transform="rotate(-90 264 1567)">3.37</text>
<text class="t" x="936" y="1576" textLength="106" lengthAdjust="spacingAndGlyphs">lobby</text>
</svg>

<!-- T21 -->
<svg x="3000" y="1500" width="1500" height="1500" viewBox="0 0 1568 1568">
<path class="w" d="M482 -20H494V147H508L495 159H186V258H175Q150 180 75 158V147H482Z"/>
<rect class="x1" transform="translate(186 159)" width="308" height="62"/>
<rect class="w" x="617" y="147" width="37" height="12"/><path class="n" d="M494 159H654M654 328V440"/>
<path class="w" d="M654 96H1338V108H944V318H932V108H666V328H654Z"/><path class="w" d="M666 306H834V318H666Z"/><path class="w" d="M918 306H932V318H918Z"/>
<rect class="x1" transform="translate(944 108)" width="394" height="62"/>
<rect class="wv" transform="translate(1338 -160)" width="24" height="253"/><rect class="w" x="1338" y="93" width="24" height="127"/><rect class="wv" transform="translate(1338 220)" width="24" height="245"/><rect class="w" x="1338" y="465" width="24" height="124"/><rect class="w" x="1338" y="657" width="24" height="24"/><rect class="wv" transform="translate(1338 681)" width="24" height="247"/>
<path class="e" d="M834 318A85 85 0 0 1 917 235"/><path class="n" d="M916 314L858 255M910 318L852 260"/>
<path class="e" d="M508 53A108 108 0 0 1 617 150"/><path class="n" d="M510 158L585 85M516 158L590 90"/>
<path class="e" d="M760 437A100 100 0 0 0 670 335"/><path class="n" d="M655 432L730 362M655 425L724 358"/>
<path class="w" d="M547 453H944V577H1338V589H932V465H547Z"/><path class="w" d="M654 440H666V453H654Z"/>
<path class="w" d="M-20 530H100Q130 510 175 443H186V530H411V453H436V465H423V703H399V555H-20Z"/>
<rect class="x1" transform="translate(226 468)" width="185" height="62"/>
<path class="e" d="M547 455A105 105 0 0 1 440 558"/><path class="n" d="M443 455L518 527M437 460L512 532"/>
<path class="n" d="M423 644H710"/><path class="w" d="M522 645H722V953H710V657H522Z"/><path class="w" d="M423 645H436V657H423Z"/>
<path class="e" d="M522 650A80 80 0 0 1 440 725"/><path class="n" d="M440 645L498 702M434 650L492 707"/>
<rect class="x2" transform="translate(722 657)" width="62" height="296"/>
<use href="#col" x="716" y="589"/><use href="#col" x="1295" y="589"/><use href="#col" x="1295" y="1334"/>
<rect class="b" x="-10" y="703" width="268" height="17"/><rect class="b" x="390" y="703" width="33" height="17"/><rect class="b" x="405" y="703" width="18" height="345"/><rect class="b" x="-10" y="1030" width="433" height="18"/>
<rect class="f" x="258" y="703" width="132" height="12" stroke-dasharray="8 4"/>
<path d="M275 772L390 715" stroke="#000" stroke-width="4"/><path class="e" d="M258 715A120 120 0 0 0 275 772"/>
<path class="n" d="M-14 720V1030M22 720V1030M59 720V1030M96 720V1030M133 720V1030M170 720V1030M207 720V1030M244 720V1030M-10 798H244M-10 870H244M-10 880H244M-10 955H244M207 880L245 955L207 1030"/><path class="n" d="M238 790H250M238 803H250"/>
<path class="w" d="M423 953H1338V928H1362V977H1153V989H1129V977H423Z"/>
<rect class="wv" transform="translate(1129 989)" width="24" height="173"/>
<path class="n" d="M1153 977V1174M1356 977V1174M1362 977V1174"/>
<path class="w" d="M1129 1162H1153V1174H1362V1335H1338V1198H968V1580H956V1187H1129Z"/>
<rect class="x1" transform="translate(968 1198)" width="370" height="62"/>
<path class="w" d="M784 1334H956V1346H784Z"/><rect class="c" x="716" y="1334" width="74" height="68"/><path class="n" d="M750 1322V1415M703 1368H796"/>
<path class="w" d="M716 1402H728V1580H716V1473H703V1461H716Z"/><path class="w" d="M258 1461H593V1473H258Z"/>
<rect class="w" x="1338" y="1402" width="24" height="36"/><rect class="wv" transform="translate(1338 1438)" width="24" height="140"/>
<path class="e" d="M593 1473A105 105 0 0 1 700 1367"/><path class="n" d="M698 1470L620 1400M692 1470L615 1405"/>
<path class="w" d="M146 1348H258V1461H245Q220 1380 146 1360Z"/><path class="w" d="M-20 1232H146V1348H134V1245H-20Z"/>
<path class="n" d="M423 1473H593"/>
<path class="w" d="M349 1048H361V1295H423V1361H411V1307H349Z"/><path class="w" d="M411 1448H423V1461H411Z"/>
<rect class="x2" transform="translate(362 1048)" width="61" height="247"/>
<path class="e" d="M340 1445A85 85 0 0 1 411 1362"/><path class="n" d="M360 1385L423 1448M354 1390L417 1452"/>
<path class="n" d="M423 1048V1461"/>
<path class="e" d="M860 1599A80 80 0 0 1 940 1518"/><path class="n" d="M940 1599L885 1538M934 1601L879 1542"/>
<path class="m" d="M75 121H482"/><path class="n" d="M75 115V132"/><text class="d" x="278" y="134">3.30</text>
<path class="m" d="M-120 183H75"/>
<text class="d" x="-33" y="196">1.50</text><text class="d" x="-33" y="314">3.11</text>
<path class="m" d="M175 301H654"/><text class="d" x="414" y="314">3.89</text>
<path class="m" d="M-220 301H175"/>
<path class="m" d="M208 159V530"/><text class="d" x="222" y="340" transform="rotate(-90 222 340)">3.01</text>
<path class="m" d="M148 258V443"/><text class="d" x="160" y="340" transform="rotate(-90 160 340)">1.50</text>
<path class="m" d="M454 -300V147"/>
<path class="m" d="M666 131H932"/><text class="d" x="799" y="144">2.15</text>
<path class="m" d="M692 108V306"/><text class="d" x="706" y="205" transform="rotate(-90 706 205)">1.60</text>
<path class="m" d="M690 318V453"/><text class="d" x="704" y="385" transform="rotate(-90 704 385)">1.10</text>
<path class="m" d="M677 465V644"/><text class="d" x="690" y="555" transform="rotate(-90 690 555)">1.45</text>
<path class="m" d="M1178 108V577"/><text class="d" x="1192" y="342" transform="rotate(-90 1192 342)">3.80</text>
<path class="m" d="M1178 -200V96"/>
<path class="m" d="M944 526H1338"/><text class="d" x="1141" y="539">3.20</text>
<path class="m" d="M1178 589V953"/><text class="d" x="1192" y="770" transform="rotate(-90 1192 770)">2.95</text>
<path class="m" d="M722 921H1338"/><text class="d" x="1030" y="934">5.00</text>
<path class="m" d="M423 921H710"/><text class="d" x="566" y="934">2.32</text>
<path class="m" d="M678 657V953"/><text class="d" x="692" y="805" transform="rotate(-90 692 805)">2.40</text>
<path class="m" d="M423 1009H1129"/><text class="d" x="776" y="1022">5.72</text>
<path class="m" d="M475 977V1461"/><text class="d" x="489" y="1218" transform="rotate(-90 489 1218)">3.93</text>
<path class="m" d="M901 977V1334"/><text class="d" x="915" y="1155" transform="rotate(-90 915 1155)">2.90</text>
<path class="m" d="M1153 1006H1362"/><text class="d" x="1257" y="1019">1.70</text>
<path class="m" d="M1176 977V1174"/><text class="d" x="1190" y="1075" transform="rotate(-90 1190 1075)">1.60</text>
<path class="m" d="M15 1087H349"/><text class="d" x="183" y="1100">2.70</text>
<path class="m" d="M32 1048V1232"/><text class="d" x="46" y="1125" transform="rotate(-90 46 1125)">1.50</text>
<path class="m" d="M301 1048V1348"/><text class="d" x="315" y="1197" transform="rotate(-90 315 1197)">2.45</text>
<path class="m" d="M-60 1369H134"/><text class="d" x="40" y="1382">1.50</text>
<path class="m" d="M968 1416H1338"/><text class="d" x="1154" y="1429">3.00</text>
<path class="m" d="M728 1416H956"/><text class="d" x="842" y="1429">1.85</text>
<path class="m" d="M1202 1198V1960"/><text class="d" x="1216" y="1460" transform="rotate(-90 1216 1460)">4.25</text>
<path class="m" d="M900 1346V1600"/><text class="d" x="914" y="1467" transform="rotate(-90 914 1467)">1.95</text>
<path class="m" d="M-130 1503H248"/><text class="d" x="40" y="1516">3.37</text>
<path class="m" d="M248 1503H716"/><text class="d" x="482" y="1516">3.79</text>
<path class="m" d="M268 1473V1658"/><text class="d" x="282" y="1560" transform="rotate(-90 282 1560)">1.50</text>
<text class="t" x="168" y="20" textLength="224" lengthAdjust="spacingAndGlyphs">Reception  Hall</text><text class="t" x="391" y="345" textLength="110" lengthAdjust="spacingAndGlyphs">Coridor</text><text class="t" x="724" y="228" textLength="148" lengthAdjust="spacingAndGlyphs">Bathroom</text><text class="t" x="1072" y="422" textLength="131" lengthAdjust="spacingAndGlyphs">Bedroom</text><text class="t" x="952" y="699" textLength="133" lengthAdjust="spacingAndGlyphs">Bedroom</text><text class="t" x="466" y="836" textLength="146" lengthAdjust="spacingAndGlyphs">Bathroom</text><text class="t" x="1198" y="1120" textLength="113" lengthAdjust="spacingAndGlyphs">Terrace</text><text class="t" x="594" y="1265" textLength="132" lengthAdjust="spacingAndGlyphs">Bedroom</text><text class="t" x="157" y="1185" textLength="146" lengthAdjust="spacingAndGlyphs">Bathroom</text><text class="t" x="786" y="1510" textLength="147" lengthAdjust="spacingAndGlyphs">Bathroom</text><text class="t" x="1082" y="1554" textLength="132" lengthAdjust="spacingAndGlyphs">Bedroom</text><text class="t" x="391" y="1578" textLength="110" lengthAdjust="spacingAndGlyphs">Coridor</text>
</svg>

<!-- T02 -->
<svg x="0" y="3000" width="1500" height="1500" viewBox="0 0 1568 1568">
<rect class="wv" transform="translate(561 -20)" width="24" height="138"/><rect class="w" x="561" y="118" width="24" height="87"/><rect class="wv" transform="translate(561 205)" width="24" height="245"/><rect class="w" x="561" y="450" width="24" height="100"/><rect class="w" x="561" y="611" width="24" height="146"/><rect class="wv" transform="translate(561 757)" width="24" height="247"/><rect class="w" x="561" y="1004" width="24" height="130"/>
<path class="w" d="M561 1218H585V1468H1580V1492H561Z"/>
<rect class="wh" transform="translate(704 1468)" width="246" height="24"/><rect class="wh" transform="translate(1197 1468)" width="247" height="24"/>
<path class="w" d="M585 155H1196V143H1208V155H1220V167H585Z"/>
<path class="w" d="M955 -20H968V19H985V31H955Z"/><path class="w" d="M1065 19H1196V-20H1208V31H1065Z"/><path class="n" d="M1208 31V143M985 31H1065"/>
<path class="e" d="M985 -50A80 80 0 0 1 1065 31"/><path class="n" d="M985 30L1040 -30M991 32L1046 -26"/>
<path class="e" d="M1103 137A105 105 0 0 1 1192 33"/><path class="n" d="M1133 60L1208 135M1140 56L1212 128"/>
<path class="w" d="M1343 90H1580V102H1355V192H1343Z"/><path class="w" d="M1343 275H1355V291H1580V302H1208V543H1196V291H1343Z"/>
<path class="n" d="M1220 155H1343"/>
<path class="e" d="M1220 160A110 110 0 0 0 1330 259"/><path class="n" d="M1250 230L1325 157M1256 232L1330 160"/>
<path class="e" d="M1345 192A82 82 0 0 1 1426 275"/><path class="n" d="M1345 270L1400 215M1350 274L1404 220"/>
<rect class="x1" transform="translate(629 555)" width="493" height="62"/>
<path class="w" d="M585 617H1122V611H1208V629H585Z"/>
<use href="#col" x="561" y="543"/><use href="#col" x="1140" y="543"/>
<rect class="c" x="561" y="1131" width="75" height="87"/><path class="n" d="M597 1119V1230M548 1174H648"/>
<rect class="f" x="1320" y="617" width="250" height="12"/><path class="n" d="M1350 629L1390 671H1580"/>
<text class="p" x="1388" y="693" textLength="243" lengthAdjust="spacingAndGlyphs">دیوار تی وی ارتفاع ۱۸۰ سانتیمتر</text>
<path class="n" d="M1563 1137V1468"/>
<rect class="f" x="183" y="559" width="175" height="35"/><rect class="f" x="183" y="1157" width="175" height="35"/>
<text class="L" x="250" y="640" transform="rotate(-90 250 640)" text-anchor="middle">10</text><text class="L" x="250" y="1245" transform="rotate(-90 250 1245)" text-anchor="middle">11</text>
<path class="g" d="M358 576H506M358 1174H506"/><path class="n" d="M477 -20V1218M470 1218H506M471 582L483 570M471 1180L483 1168M471 1224L483 1212"/>
<text class="i" x="490" y="195" transform="rotate(-90 490 195)">615</text><text class="i" x="490" y="875" transform="rotate(-90 490 875)">485</text><text class="i" x="453" y="1195" transform="rotate(-90 453 1195)">35</text>
<path class="m" d="M697 -300V155"/>
<path class="m" d="M697 167V617"/><text class="d" x="711" y="390" transform="rotate(-90 711 390)">3.65</text>
<path class="m" d="M585 344H1196"/><text class="d" x="890" y="357">4.95</text>
<path class="m" d="M697 629V1468"/><text class="d" x="711" y="1048" transform="rotate(-90 711 1048)">6.80</text>
<path class="m" d="M585 815H2506"/><text class="d" x="1535" y="828">15.57</text>
<path class="m" d="M585 1363H1563"/><text class="d" x="1074" y="1376">7.92</text>
<path class="m" d="M1208 349H1675"/><text class="d" x="1444" y="362">3.82</text>
<path class="m" d="M1355 127H1666"/><text class="d" x="1511" y="140">2.52</text>
<text class="t" x="835" y="415" textLength="133" lengthAdjust="spacingAndGlyphs">Bedroom</text><text class="t" x="1330" y="547" textLength="223" lengthAdjust="spacingAndGlyphs">Reception  Hall</text><text class="t" x="814" y="858" textLength="224" lengthAdjust="spacingAndGlyphs">Reception  Hall</text><text class="t" x="814" y="1185" textLength="224" lengthAdjust="spacingAndGlyphs">Reception  Hall</text><text class="t" x="1437" y="252" textLength="147" lengthAdjust="spacingAndGlyphs">Bathroom</text><text class="t" x="1403" y="10" textLength="110" lengthAdjust="spacingAndGlyphs">Coridor</text>
</svg>

<!-- T12 -->
<svg x="1500" y="3000" width="1500" height="1500" viewBox="0 0 1568 1568">
<path class="w" d="M-20 90H108Q150 180 222 205V218H110V302H-20V291H98V102H-20Z"/>
<path class="w" d="M660 71H685V90H1240V71H1264V90H1403Q1445 175 1517 208V219H1399V395H1243V383H1387V115H538V383H667V395H525V219H407V208Q485 175 510 90H660Z"/>
<rect class="w" x="815" y="383" width="272" height="12"/>
<rect class="w" x="938" y="115" width="24" height="1360"/>
<path class="n" d="M667 383H815M667 390H740M1097 383H1243M1170 390H1243M620 188H863V383M620 188V383M1036 188H1305V383M1036 188V383M863 395V1137M1036 395V1137M620 1150V1468M863 1150V1468M1036 1150V1468M1305 1150V1468M685 -20V90M1240 -20V90"/>
<path class="e" d="M545 68A140 140 0 0 1 685 -72M1240 -72A140 140 0 0 1 1380 68"/><path class="n" d="M615 -2L685 68M621 -6L691 62M1310 -2L1240 68M1304 -6L1234 62"/>
<rect class="f" x="865" y="201" width="72" height="73"/><rect class="f" x="865" y="278" width="72" height="73"/><rect class="f" x="963" y="201" width="71" height="73"/><rect class="f" x="963" y="278" width="71" height="73"/>
<text class="s" x="900" y="243" transform="rotate(-90 900 238)">W.M</text><text class="s" x="900" y="320" transform="rotate(-90 900 315)">D.W</text><text class="s" x="998" y="243" transform="rotate(-90 998 238)">W.M</text><text class="s" x="998" y="320" transform="rotate(-90 998 315)">D.W</text>
<use href="#sk2" x="552" y="200"/><use href="#sk2" x="1316" y="200"/>
<rect class="f" x="840" y="402" width="85" height="110"/><path class="n" d="M843 402V512"/><rect class="f" x="931" y="402" width="7" height="110"/><rect class="f" x="962" y="402" width="7" height="110"/><rect class="f" x="973" y="402" width="87" height="110"/><path class="n" d="M1057 402V512"/>
<use href="#st" x="865" y="607"/>
<rect class="n" x="525" y="611" width="95" height="378"/><rect class="n" x="1305" y="611" width="95" height="378"/>
<rect class="c" x="525" y="544" width="95" height="67"/><path class="n" d="M568 532V622M522 576H618"/><rect class="c" x="1305" y="544" width="95" height="67"/><path class="n" d="M1357 532V622M1305 576H1402"/>
<use href="#hs" x="525" y="617"/><use href="#hs" x="525" y="690"/><use href="#hs" x="525" y="760"/><use href="#hs" x="525" y="832"/><use href="#hs" x="525" y="905"/>
<use href="#hd" x="1400" y="617"/><use href="#hd" x="1400" y="690"/><use href="#hd" x="1400" y="760"/><use href="#hd" x="1400" y="832"/><use href="#hd" x="1400" y="905"/>
<path class="w" d="M863 1137H938V1150H863Z"/><path class="w" d="M962 1137H1036V1150H962Z"/>
<path class="w" d="M-20 1137H537V1212H537V1468H1387V1212H1411V1492H512V1212H450V1162H-20Z"/>
<path class="w" d="M537 1137H620V1150H537Z"/><path class="w" d="M1305 1137H1387V1150H1305Z"/>
<path class="w" d="M1474 1137H1580V1162H1474Z"/>
<rect class="wh" transform="translate(111 1137)" width="248" height="24"/><rect class="wh" transform="translate(614 1468)" width="246" height="24"/><rect class="wh" transform="translate(1051 1468)" width="247" height="24"/>
<rect class="c" x="450" y="1137" width="87" height="75"/><path class="n" d="M494 1125V1224M438 1174H550"/><rect class="c" x="1387" y="1137" width="87" height="75"/><path class="n" d="M1430 1125V1224M1375 1174H1487"/>
<rect class="wv" transform="translate(-4 1180)" width="24" height="245"/>
<path class="w" d="M-20 1425H0L20 1450V1486H512V1492H-20Z"/><rect class="f" x="20" y="1486" width="492" height="6"/>
<rect class="f" x="1411" y="1486" width="170" height="6"/>
<text class="p" x="-180" y="693" textLength="243" lengthAdjust="spacingAndGlyphs">دیوار تی وی ارتفاع ۱۸۰ سانتیمتر</text>
<path class="m" d="M840 115V383"/><text class="d" x="854" y="248" transform="rotate(-90 854 248)">2.17</text>
<path class="m" d="M1058 115V383"/><text class="d" x="1072" y="248" transform="rotate(-90 1072 248)">2.17</text>
<path class="m" d="M537 350H938"/><text class="d" x="737" y="363">3.25</text>
<path class="m" d="M962 350H1387"/><text class="d" x="1175" y="363">3.45</text>
<path class="m" d="M107 350H525"/><text class="d" x="317" y="363">3.35</text>
<path class="m" d="M1399 350H1817"/>
<path class="m" d="M20 302V617"/><text class="d" x="34" y="460" transform="rotate(-90 34 460)">2.55</text>
<path class="m" d="M20 629V1137"/><text class="d" x="34" y="880" transform="rotate(-90 34 880)">4.12</text>
<path class="m" d="M840 395V1137"/><text class="d" x="854" y="767" transform="rotate(-90 854 767)">6.03</text>
<path class="m" d="M1058 395V1137"/><text class="d" x="1072" y="767" transform="rotate(-90 1072 767)">6.03</text>
<path class="m" d="M840 1150V1468"/><text class="d" x="854" y="1310" transform="rotate(-90 854 1310)">2.58</text>
<path class="m" d="M1058 1150V1468"/><text class="d" x="1072" y="1310" transform="rotate(-90 1072 1310)">2.58</text>
<path class="m" d="M20 1363H512"/><text class="d" x="265" y="1376">4.00</text>
<path class="m" d="M537 1365H938"/><text class="d" x="737" y="1378">3.25</text>
<path class="m" d="M962 1370H1387"/><text class="d" x="1175" y="1383">3.45</text>
<path class="m" d="M1411 1370H2389"/>
<path class="m" d="M-983 815H938"/><path class="m" d="M962 815H2338"/>
<text class="d" x="-33" y="828">15.57</text>
<text class="t" x="1118" y="826" textLength="112" lengthAdjust="spacingAndGlyphs">kitchen</text><text class="t" x="111" y="914" textLength="87" lengthAdjust="spacingAndGlyphs">Living</text><text class="t" x="198" y="1313" textLength="113" lengthAdjust="spacingAndGlyphs">Terrace</text><text class="t" x="617" y="1254" textLength="256" lengthAdjust="spacingAndGlyphs">Breakfast  Dining</text><text class="t" x="1051" y="1246" textLength="256" lengthAdjust="spacingAndGlyphs">Breakfast  Dining</text>
<text class="t" x="690" y="276" textLength="129" lengthAdjust="spacingAndGlyphs">LAUNDRY</text><text class="t" x="1108" y="276" textLength="131" lengthAdjust="spacingAndGlyphs">LAUNDRY</text>
<text class="t" x="-131" y="252" textLength="147" lengthAdjust="spacingAndGlyphs">Bathroom</text>
<path class="m" d="M58 102V291"/><text class="d" x="72" y="195" transform="rotate(-90 72 195)">1.52</text>
<path class="m" d="M-213 127H98"/><text class="d" x="-57" y="140">2.52</text>
<path class="m" d="M252 -210V205"/>
<path class="m" d="M64 -95V90"/><path class="m" d="M509 -95V90"/><path class="m" d="M1395 -95V90"/>
<text class="d" x="76" y="-8" transform="rotate(-90 76 -8)">1.50</text><text class="d" x="522" y="-8" transform="rotate(-90 522 -8)">1.50</text><text class="d" x="1409" y="-8" transform="rotate(-90 1409 -8)">1.50</text><text class="d" x="264" y="-1" transform="rotate(-90 264 -1)">3.37</text>
<text class="t" x="936" y="8" textLength="106" lengthAdjust="spacingAndGlyphs">lobby</text>
</svg>

<!-- T22 -->
<svg x="3000" y="3000" width="1500" height="1500" viewBox="0 0 1568 1568">
<path class="w" d="M250 90H581V192H569V102H258V291H569V275H581V291H728V543H716V302H246V218H133V208Q225 175 250 90Z"/>
<path class="w" d="M703 155H1338V118H1362V205H1338V167H703Z"/>
<rect class="wv" transform="translate(1338 -20)" width="24" height="138"/><rect class="wv" transform="translate(1338 205)" width="24" height="245"/><rect class="w" x="1338" y="450" width="24" height="307"/><rect class="wv" transform="translate(1338 757)" width="24" height="247"/><rect class="w" x="1338" y="1004" width="24" height="130"/>
<path class="w" d="M716 -20H728V19H860V31H716Z"/><path class="w" d="M940 19H955V-20H968V31H940Z"/>
<path class="n" d="M716 31V143M592 155H703M860 31H940"/>
<path class="e" d="M860 31A80 80 0 0 1 940 -50"/><path class="n" d="M940 31L885 -30M934 33L879 -26"/>
<rect class="x1" transform="translate(803 555)" width="492" height="62"/>
<path class="w" d="M716 611H784V617H1295V611H1338V629H716Z"/>
<use href="#col" x="716" y="543"/><use href="#col" x="1295" y="543"/>
<rect class="c" x="1289" y="1131" width="73" height="87"/><path class="n" d="M1326 1119V1230M1276 1174H1376"/>
<path class="w" d="M338 1425L362 1450V1468H1338V1218H1362V1492H338Z"/>
<rect class="wh" transform="translate(480 1468)" width="246" height="24"/><rect class="wh" transform="translate(972 1468)" width="247" height="24"/>
<path class="w" d="M-20 1137H362V1180H338V1162H-20Z"/><rect class="wh" transform="translate(-20 1137)" width="265" height="24"/>
<rect class="wv" transform="translate(338 1180)" width="24" height="245"/><rect class="f" x="-20" y="1486" width="358" height="6"/>
<path class="e" d="M735 33A105 105 0 0 1 822 137"/><path class="n" d="M716 137L790 62M716 128L784 58"/>
<path class="e" d="M500 275A81 81 0 0 1 581 192"/><path class="n" d="M578 272L522 215M572 276L518 220"/>
<path class="e" d="M598 259A105 105 0 0 0 703 160"/><path class="n" d="M597 155L672 230M604 155L678 226"/>
<rect class="f" x="357" y="617" width="246" height="12"/><path class="n" d="M410 629L447 671H630"/>
<text class="p" x="445" y="693" textLength="243" lengthAdjust="spacingAndGlyphs">دیوار تی وی ارتفاع ۱۸۰ سانتیمتر</text>
<path class="m" d="M-170 349H246"/><text class="d" x="38" y="362">3.35</text>
<path class="m" d="M246 349H716"/><text class="d" x="481" y="362">3.82</text>
<path class="m" d="M258 127H569"/><text class="d" x="413" y="140">2.52</text>
<path class="m" d="M298 102V291"/><text class="d" x="312" y="195" transform="rotate(-90 312 195)">1.52</text>
<path class="m" d="M311 302V617" style="stroke-width:2.2"/><text class="d" x="325" y="460" transform="rotate(-90 325 460)">2.55</text>
<path class="m" d="M311 629V1137" style="stroke-width:2.2"/><text class="d" x="325" y="880" transform="rotate(-90 325 880)">4.12</text>
<path class="m" d="M268 -95V90"/><text class="d" x="282" y="-8" transform="rotate(-90 282 -8)">1.50</text>
<path class="m" d="M728 344H1338"/><text class="d" x="1033" y="357">4.95</text>
<path class="m" d="M1202 167V617"/><text class="d" x="1216" y="390" transform="rotate(-90 1216 390)">3.65</text>
<path class="m" d="M1202 -300V155"/>
<path class="m" d="M1202 629V1468"/><text class="d" x="1216" y="1048" transform="rotate(-90 1216 1048)">6.80</text>
<path class="m" d="M-606 815H1338"/><text class="d" x="365" y="828">15.77</text>
<path class="m" d="M362 1370H1338"/><text class="d" x="850" y="1383">7.92</text>
<path class="m" d="M-157 1370H338"/><text class="d" x="90" y="1383">4.00</text>
<text class="t" x="339" y="252" textLength="147" lengthAdjust="spacingAndGlyphs">Bathroom</text><text class="t" x="924" y="404" textLength="132" lengthAdjust="spacingAndGlyphs">Bedroom</text><text class="t" x="371" y="547" textLength="223" lengthAdjust="spacingAndGlyphs">Reception  Hall</text><text class="t" x="886" y="858" textLength="224" lengthAdjust="spacingAndGlyphs">Reception  Hall</text><text class="t" x="886" y="1185" textLength="224" lengthAdjust="spacingAndGlyphs">Reception  Hall</text><text class="t" x="293" y="914" textLength="86" lengthAdjust="spacingAndGlyphs">Living</text><text class="t" x="45" y="1311" textLength="113" lengthAdjust="spacingAndGlyphs">Terrace</text><text class="t" x="391" y="10" textLength="110" lengthAdjust="spacingAndGlyphs">Coridor</text>
<text x="1425" y="1553" font-family="DejaVu Sans,sans-serif" font-size="18" fill="#ddd" textLength="105" lengthAdjust="spacingAndGlyphs">طرح تو طرح</text>
</svg>
</svg>
</body></html>
